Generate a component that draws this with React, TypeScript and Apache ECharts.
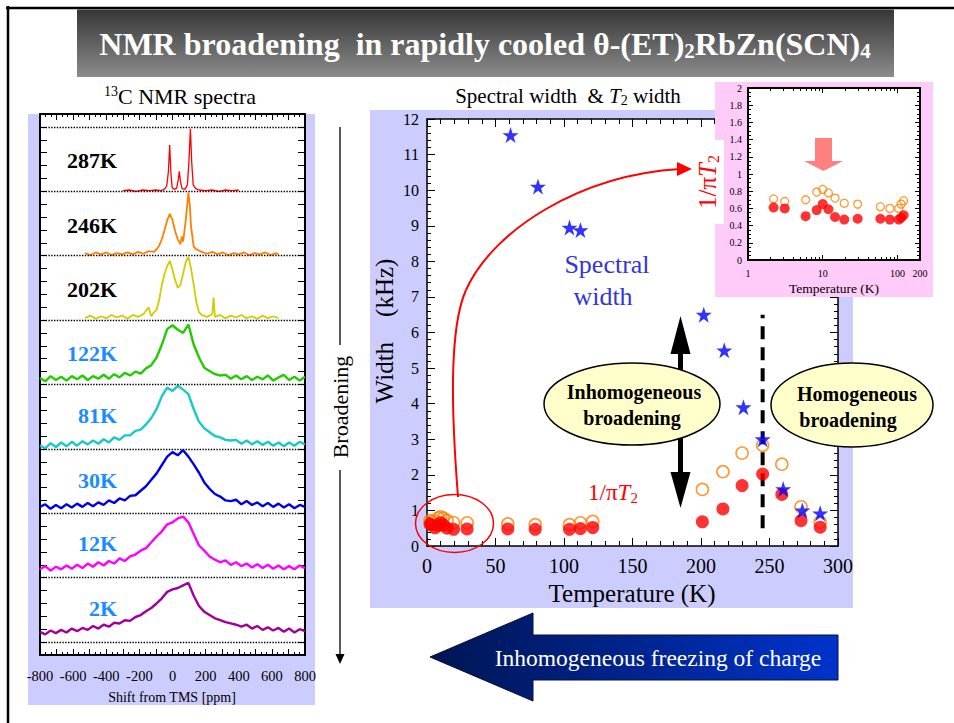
import React, { useEffect, useRef } from 'react';
import * as echarts from 'echarts';

const SERIF = '"Liberation Serif", "Times New Roman", Times, serif';

// ---------------- 13C NMR spectra (shift in ppm, intensity above its baseline) ----------------
const SPECTRUM_NAMES = ['287K', '246K', '202K', '122K', '81K', '30K', '12K', '2K'];
const SPECTRUM_COLORS = ['#ff0000', '#ff8000', '#d2cc00', '#22cc00', '#19c8c8', '#0000e6', '#ff00ff', '#a0009a'];
const SPECTRUM_LABEL_COLORS = ['#000', '#000', '#000', '#1a8cff', '#1a8cff', '#1a8cff', '#1a8cff', '#1a8cff'];
const SPECTRUM_BASELINES = [7, 6, 5, 4, 3, 2, 1, 0];
const GUIDE_LEVELS = [0, 1, 2, 3, 4, 5, 6, 7, 8];
const SHIFT_TICKS = [-800, -600, -400, -200, 0, 200, 400, 600, 800];

const SHIFT_287K = [-300, -260, -220, -180, -140, -100, -70, -50, -35, -25, -17, -10, -2, 10, 25, 35, 41, 48, 58, 75, 90, 100, 108, 116, 125, 140, 160, 200, 240, 280, 320, 360, 400];
const INT_287K = [0.01, 0.02, 0.0, 0.02, 0.01, 0.02, 0.01, 0.03, 0.08, 0.3, 0.72, 0.3, 0.06, 0.03, 0.05, 0.18, 0.31, 0.15, 0.04, 0.03, 0.1, 0.5, 0.97, 0.45, 0.1, 0.04, 0.02, 0.01, 0.02, 0.0, 0.02, 0.01, 0.02];

const SHIFT_246K = [-528, -496, -464, -432, -400, -368, -336, -304, -272, -240, -208, -176, -144, -112, -96, -80, -64, -48, -32, -16, 0, 16, 32, 48, 56, 64, 80, 96, 104, 112, 128, 144, 176, 208, 240, 272, 304, 336, 368, 400, 432, 464, 496, 528, 560, 592, 624, 640];
const INT_246K = [0.04, 0.01, 0.05, 0.02, 0.05, 0.01, 0.04, 0.02, 0.05, 0.02, 0.06, 0.03, 0.07, 0.06, 0.1, 0.16, 0.26, 0.4, 0.55, 0.65, 0.55, 0.38, 0.25, 0.18, 0.3, 0.22, 0.55, 0.98, 0.8, 0.45, 0.14, 0.1, 0.06, 0.03, 0.06, 0.02, 0.05, 0.01, 0.04, 0.02, 0.05, 0.01, 0.04, 0.02, 0.05, 0.01, 0.04, 0.02];

const SHIFT_202K = [-528, -496, -464, -432, -400, -368, -336, -304, -272, -240, -208, -176, -144, -128, -112, -96, -80, -64, -48, -32, -16, 0, 16, 32, 48, 64, 80, 96, 112, 128, 144, 160, 176, 208, 240, 248, 256, 288, 320, 352, 384, 416, 448, 480, 512, 544, 576, 608, 640];
const INT_202K = [0.03, 0.07, 0.02, 0.06, 0.03, 0.08, 0.04, 0.07, 0.02, 0.08, 0.05, 0.09, 0.2, 0.06, 0.12, 0.16, 0.32, 0.55, 0.72, 0.84, 0.92, 0.78, 0.62, 0.5, 0.55, 0.72, 0.9, 0.98, 0.8, 0.55, 0.28, 0.12, 0.08, 0.05, 0.09, 0.35, 0.05, 0.08, 0.03, 0.07, 0.04, 0.08, 0.03, 0.06, 0.02, 0.07, 0.03, 0.06, 0.03];

const SHIFT_BROAD = [-800, -768, -736, -704, -672, -640, -608, -576, -544, -512, -480, -448, -416, -384, -352, -320, -288, -256, -224, -192, -160, -128, -96, -64, -32, 0, 32, 64, 96, 128, 160, 192, 224, 256, 288, 320, 352, 384, 416, 448, 480, 512, 544, 576, 608, 640, 672, 704, 736, 768, 800];
const INT_122K = [0.1, 0.05, 0.13, 0.07, 0.12, 0.06, 0.13, 0.08, 0.14, 0.07, 0.13, 0.09, 0.15, 0.09, 0.16, 0.11, 0.18, 0.14, 0.2, 0.17, 0.25, 0.3, 0.42, 0.62, 0.86, 0.92, 0.85, 0.8, 0.93, 0.62, 0.42, 0.26, 0.21, 0.16, 0.14, 0.15, 0.09, 0.14, 0.08, 0.13, 0.07, 0.12, 0.08, 0.14, 0.06, 0.11, 0.15, 0.07, 0.12, 0.06, 0.12];
const INT_81K = [0.05, 0.01, 0.09, 0.03, 0.1, 0.04, 0.11, 0.05, 0.12, 0.07, 0.13, 0.08, 0.15, 0.1, 0.18, 0.14, 0.21, 0.21, 0.28, 0.3, 0.38, 0.48, 0.62, 0.82, 0.95, 0.9, 0.98, 0.92, 0.85, 0.62, 0.42, 0.32, 0.26, 0.2, 0.18, 0.14, 0.13, 0.14, 0.08, 0.13, 0.07, 0.12, 0.06, 0.11, 0.05, 0.1, 0.04, 0.1, 0.05, 0.11, 0.07];
const INT_30K = [0.1, 0.14, 0.07, 0.13, 0.08, 0.14, 0.09, 0.15, 0.1, 0.16, 0.11, 0.17, 0.13, 0.2, 0.16, 0.23, 0.2, 0.27, 0.28, 0.35, 0.42, 0.52, 0.62, 0.75, 0.88, 0.95, 0.9, 0.98, 0.88, 0.76, 0.63, 0.48, 0.38, 0.3, 0.26, 0.2, 0.19, 0.21, 0.14, 0.19, 0.13, 0.17, 0.11, 0.16, 0.1, 0.15, 0.09, 0.14, 0.08, 0.13, 0.1];
const INT_12K = [0.13, 0.18, 0.11, 0.17, 0.13, 0.19, 0.14, 0.2, 0.15, 0.22, 0.17, 0.24, 0.19, 0.26, 0.22, 0.3, 0.26, 0.33, 0.36, 0.42, 0.46, 0.55, 0.64, 0.72, 0.83, 0.86, 0.92, 0.95, 0.86, 0.68, 0.5, 0.42, 0.33, 0.28, 0.24, 0.27, 0.2, 0.24, 0.18, 0.22, 0.16, 0.21, 0.15, 0.2, 0.14, 0.19, 0.13, 0.18, 0.13, 0.19, 0.15];
const INT_2K = [0.16, 0.12, 0.18, 0.14, 0.19, 0.15, 0.21, 0.17, 0.22, 0.19, 0.25, 0.21, 0.27, 0.24, 0.3, 0.29, 0.34, 0.33, 0.39, 0.42, 0.48, 0.53, 0.6, 0.68, 0.78, 0.82, 0.84, 0.88, 0.92, 0.72, 0.56, 0.47, 0.42, 0.37, 0.34, 0.31, 0.29, 0.27, 0.24, 0.27, 0.21, 0.25, 0.19, 0.23, 0.18, 0.22, 0.16, 0.21, 0.15, 0.2, 0.17];

const SPECTRA_SHIFTS = [SHIFT_287K, SHIFT_246K, SHIFT_202K, SHIFT_BROAD, SHIFT_BROAD, SHIFT_BROAD, SHIFT_BROAD, SHIFT_BROAD];
const SPECTRA_INTS = [INT_287K, INT_246K, INT_202K, INT_122K, INT_81K, INT_30K, INT_12K, INT_2K];

// ---------------- Widths vs temperature ----------------
const T_STAR = [61, 81, 104, 112, 202, 217, 231, 245, 260, 274, 287];
const W_STAR = [11.55, 10.1, 8.95, 8.88, 6.5, 5.5, 3.9, 3.0, 1.6, 1.0, 0.92];

const T_LOW = [2.2, 3.1, 5.9, 8.3, 10, 11.9, 14.6, 19.4, 29.3, 59, 79, 104, 112, 121];
const FILLED_LOW = [0.61, 0.6, 0.51, 0.58, 0.65, 0.59, 0.5, 0.47, 0.48, 0.48, 0.47, 0.47, 0.49, 0.52];
const OPEN_LOW = [0.71, 0.68, 0.7, 0.79, 0.82, 0.78, 0.72, 0.66, 0.65, 0.62, 0.6, 0.6, 0.65, 0.69];

const T_HIGH = [201, 216, 230, 245, 259, 273, 287];
const FILLED_HIGH = [0.68, 1.04, 1.7, 2.02, 1.45, 0.71, 0.53];
const OPEN_HIGH = [1.59, 2.09, 2.61, 2.83, 2.3, 1.1, 0.67];

const DIVIDE_T = 245;
const DIVIDE_W = [0.5, 6.5];

const STAR_PATH = 'path://M50,3 L61.8,38.2 L98.5,38.2 L68.9,60 L80.3,95 L50,73.5 L19.7,95 L31.1,60 L1.5,38.2 L38.2,38.2 Z';

const pairs = (xs: number[], ys: number[]) => xs.map((x, i) => [x, ys[i]]);

function txt(x: number, y: number, text: string, style: any, el: any = {}) {
  return {
    type: 'text',
    x,
    y,
    z: 10,
    silent: true,
    style: { text, fontFamily: SERIF, fill: '#000', align: 'center', verticalAlign: 'middle', ...style },
    ...el,
  };
}

function axisBase(extra: any) {
  return {
    type: 'value',
    axisLine: { show: true, onZero: false, lineStyle: { color: '#000', width: 1.5 } },
    splitLine: { show: false },
    ...extra,
  };
}

function buildOption(): any {
  const spectraSeries = SPECTRUM_NAMES.map((name, k) => ({
    type: 'line',
    name,
    xAxisIndex: 0,
    yAxisIndex: 0,
    silent: true,
    symbol: 'none',
    z: 3,
    lineStyle: { color: SPECTRUM_COLORS[k], width: k === 0 ? 1.3 : k < 3 ? 1.8 : 2.4 },
    data: SPECTRA_SHIFTS[k].map((s, i) => [s, SPECTRUM_BASELINES[k] + SPECTRA_INTS[k][i]]),
    markLine:
      k === 0
        ? {
            silent: true,
            symbol: ['none', 'none'],
            label: { show: false },
            lineStyle: { color: '#000', type: 'dotted', width: 1.4 },
            data: GUIDE_LEVELS.map((v) => ({ yAxis: v })),
          }
        : undefined,
  }));

  const leftTick = { show: true, inside: true, length: 7, lineStyle: { color: '#000', width: 1 } };
  const mainTick = { show: true, inside: true, length: 8, lineStyle: { color: '#000', width: 1 } };
  const insetTick = { show: true, inside: true, length: 5, lineStyle: { color: '#000', width: 1 } };
  const minor = (n: number, len: number) => ({ show: true, splitNumber: n, length: len, lineStyle: { color: '#000', width: 1 } });

  const xAxis = [
    axisBase({
      gridIndex: 0, position: 'bottom', min: -800, max: 800, interval: 100,
      axisLine: { show: true, onZero: false, lineStyle: { color: '#000', width: 2 } },
      axisTick: { ...leftTick, length: 6 }, minorTick: minor(3, 3),
      axisLabel: {
        margin: 13, fontSize: 14.5, fontFamily: SERIF, color: '#000',
        formatter: (v: number) => (SHIFT_TICKS.indexOf(v) >= 0 ? String(v) : ''),
      },
    }),
    axisBase({
      gridIndex: 0, position: 'top', min: -800, max: 800, interval: 100,
      axisLine: { show: true, onZero: false, lineStyle: { color: '#000', width: 2 } },
      axisTick: { ...leftTick, length: 6 }, minorTick: minor(3, 3), axisLabel: { show: false },
    }),
    axisBase({
      gridIndex: 1, position: 'bottom', min: 0, max: 300, interval: 50,
      axisTick: mainTick, minorTick: minor(5, 5),
      axisLabel: { margin: 10, fontSize: 20, fontFamily: SERIF, color: '#000' },
    }),
    axisBase({
      gridIndex: 1, position: 'top', min: 0, max: 300, interval: 50,
      axisTick: mainTick, minorTick: minor(5, 5), axisLabel: { show: false },
    }),
    {
      type: 'log', logBase: 10, gridIndex: 2, position: 'bottom', min: 1, max: 200, z: 5,
      axisLine: { show: true, onZero: false, lineStyle: { color: '#000', width: 2 } },
      splitLine: { show: false },
      axisTick: insetTick, minorTick: minor(9, 3),
      axisLabel: { margin: 8, fontSize: 10, fontFamily: SERIF, color: '#000', formatter: (v: number) => String(Math.round(v)) },
    },
    {
      type: 'log', logBase: 10, gridIndex: 2, position: 'top', min: 1, max: 200, z: 5,
      axisLine: { show: true, onZero: false, lineStyle: { color: '#000', width: 2 } },
      splitLine: { show: false },
      axisTick: insetTick, minorTick: minor(9, 3), axisLabel: { show: false },
    },
  ];

  const yAxis = [
    axisBase({
      gridIndex: 0, position: 'left', min: -0.2, max: 8.2, interval: 0.2,
      axisLine: { show: true, onZero: false, lineStyle: { color: '#000', width: 2 } },
      axisTick: leftTick, axisLabel: { show: false },
    }),
    axisBase({
      gridIndex: 0, position: 'right', min: -0.2, max: 8.2, interval: 0.2,
      axisLine: { show: true, onZero: false, lineStyle: { color: '#000', width: 2 } },
      axisTick: leftTick, axisLabel: { show: false },
    }),
    axisBase({
      gridIndex: 1, position: 'left', min: 0, max: 12, interval: 1,
      axisTick: mainTick, minorTick: minor(5, 4),
      axisLabel: { margin: 8, fontSize: 16, fontFamily: SERIF, color: '#000' },
    }),
    axisBase({
      gridIndex: 1, position: 'right', min: 0, max: 12, interval: 1,
      axisTick: mainTick, minorTick: minor(5, 4), axisLabel: { show: false },
    }),
    axisBase({
      gridIndex: 2, position: 'left', min: 0, max: 2, interval: 0.2, z: 5,
      axisLine: { show: true, onZero: false, lineStyle: { color: '#000', width: 2 } },
      axisTick: insetTick, minorTick: minor(4, 3),
      axisLabel: { margin: 6, fontSize: 10, fontFamily: SERIF, color: '#000' },
    }),
    axisBase({
      gridIndex: 2, position: 'right', min: 0, max: 2, interval: 0.2, z: 5,
      axisLine: { show: true, onZero: false, lineStyle: { color: '#000', width: 2 } },
      axisTick: insetTick, minorTick: minor(4, 3), axisLabel: { show: false },
    }),
  ];

  const openStyle = { color: 'rgba(255,255,255,0)', borderColor: '#ff8000', borderWidth: 1.6 };
  const series: any[] = [
    ...spectraSeries,
    {
      type: 'scatter', xAxisIndex: 2, yAxisIndex: 2, silent: true, z: 3,
      symbol: 'circle', symbolSize: 12, itemStyle: openStyle,
      data: [...pairs(T_LOW, OPEN_LOW), ...pairs(T_HIGH, OPEN_HIGH)],
    },
    {
      type: 'scatter', xAxisIndex: 2, yAxisIndex: 2, silent: true, z: 4,
      symbol: 'circle', symbolSize: 13, itemStyle: { color: '#ff0000' },
      data: [...pairs(T_LOW, FILLED_LOW), ...pairs(T_HIGH, FILLED_HIGH)],
    },
    {
      type: 'line', xAxisIndex: 2, yAxisIndex: 2, silent: true, z: 3, symbol: 'none',
      lineStyle: { color: '#000', width: 4, type: [13, 8] },
      data: [[DIVIDE_T, DIVIDE_W[0]], [DIVIDE_T, DIVIDE_W[1]]],
    },
    {
      type: 'scatter', xAxisIndex: 2, yAxisIndex: 2, silent: true, z: 5,
      symbol: STAR_PATH, symbolSize: 16, itemStyle: { color: '#0000ff' },
      data: pairs(T_STAR, W_STAR),
    },
    {
      type: 'scatter', xAxisIndex: 4, yAxisIndex: 4, silent: true, z: 6,
      symbol: 'circle', symbolSize: 8, itemStyle: { ...openStyle, borderWidth: 1.3 },
      data: pairs(T_LOW, OPEN_LOW),
    },
    {
      type: 'scatter', xAxisIndex: 4, yAxisIndex: 4, silent: true, z: 7,
      symbol: 'circle', symbolSize: 10, itemStyle: { color: '#ff0000' },
      data: pairs(T_LOW, FILLED_LOW),
    },
  ];

  const red = '#ff0000';
  const graphic: any[] = [
    // slide frame
    { type: 'line', z: -5, silent: true, shape: { x1: 6, y1: 8, x2: 954, y2: 8 }, style: { stroke: '#000', lineWidth: 2.5 } },
    { type: 'line', z: -5, silent: true, shape: { x1: 8, y1: 6, x2: 8, y2: 723 }, style: { stroke: '#000', lineWidth: 2.5 } },
    // title bar
    {
      type: 'rect', z: -5, silent: true, shape: { x: 77, y: 9.5, width: 817, height: 67.5 },
      style: {
        fill: new echarts.graphic.LinearGradient(0, 0, 0, 1, [
          { offset: 0, color: '#363636' },
          { offset: 1, color: '#8c8c8c' },
        ]),
      },
    },
    txt(485, 44, '{m|NMR broadening  in rapidly cooled θ-(ET)}{s|2}{m|RbZn(SCN)}{s|4}', {
      fill: '#fff', fontSize: 32, fontWeight: 'bold',
      rich: {
        m: { fontSize: 32, fontWeight: 'bold', fontFamily: SERIF, fill: '#fff' },
        s: { fontSize: 21, fontWeight: 'bold', fontFamily: SERIF, fill: '#fff', padding: [13, 0, 0, 0] },
      },
    }),
    // panel backgrounds
    { type: 'rect', z: -5, silent: true, shape: { x: 28, y: 114, width: 287, height: 591 }, style: { fill: '#ccccff' } },
    { type: 'rect', z: -5, silent: true, shape: { x: 370, y: 110, width: 483, height: 498 }, style: { fill: '#ccccff' } },
    { type: 'rect', z: 3, silent: true, shape: { x: 715, y: 82, width: 218, height: 215 }, style: { fill: '#ffccfa' } },
    { type: 'rect', z: 3, silent: true, shape: { x: 712, y: 140, width: 12, height: 84 }, style: { fill: '#ffffff' } },

    // left panel texts
    txt(180, 96, '{sup|13}{m|C NMR spectra}', {
      fontSize: 22,
      rich: {
        m: { fontSize: 22, fontFamily: SERIF, fill: '#000' },
        sup: { fontSize: 14, fontFamily: SERIF, fill: '#000', padding: [0, 0, 10, 0] },
      },
    }),
    ...SPECTRUM_NAMES.map((n, k) =>
      txt(117, [160, 225, 289, 353, 415, 480, 543, 608][k], n, {
        fontSize: 22, fontWeight: 'bold', fill: SPECTRUM_LABEL_COLORS[k], align: 'right',
      })
    ),
    txt(172, 697, 'Shift from TMS [ppm]', { fontSize: 14 }),

    // broadening arrow
    { type: 'line', z: 10, silent: true, shape: { x1: 340, y1: 127, x2: 340, y2: 345 }, style: { stroke: '#000', lineWidth: 1.3 } },
    { type: 'line', z: 10, silent: true, shape: { x1: 340, y1: 470, x2: 340, y2: 656 }, style: { stroke: '#000', lineWidth: 1.3 } },
    { type: 'polygon', z: 10, silent: true, shape: { points: [[335.5, 654], [344.5, 654], [340, 664]] }, style: { fill: '#000' } },
    txt(340, 407, 'Broadening', { fontSize: 22 }, { rotation: Math.PI / 2 }),

    // main panel texts
    txt(568, 96, '{m|Spectral width  & }{i|T}{s|2}{m| width}', {
      fontSize: 21,
      rich: {
        m: { fontSize: 21, fontFamily: SERIF, fill: '#000' },
        i: { fontSize: 21, fontFamily: SERIF, fill: '#000', fontStyle: 'italic' },
        s: { fontSize: 14, fontFamily: SERIF, fill: '#000', padding: [9, 0, 0, 0] },
      },
    }),
    txt(384, 331, 'Width    (kHz)', { fontSize: 25 }, { rotation: Math.PI / 2 }),
    txt(632, 593, 'Temperature (K)', { fontSize: 25 }),
    txt(607, 264, 'Spectral', { fontSize: 26, fill: '#3434d8' }),
    txt(603, 296, 'width', { fontSize: 26, fill: '#3434d8' }),
    txt(613, 492, '{m|1/π}{i|T}{s|2}', {
      fontSize: 23,
      rich: {
        m: { fontSize: 23, fontFamily: SERIF, fill: red },
        i: { fontSize: 23, fontFamily: SERIF, fill: red, fontStyle: 'italic' },
        s: { fontSize: 15, fontFamily: SERIF, fill: red, padding: [11, 0, 0, 0] },
      },
    }),
    txt(707, 182, '{m|1/π}{i|T}{s|2}', {
      fontSize: 25,
      rich: {
        m: { fontSize: 25, fontFamily: SERIF, fill: red },
        i: { fontSize: 25, fontFamily: SERIF, fill: red, fontStyle: 'italic' },
        s: { fontSize: 16, fontFamily: SERIF, fill: red, padding: [12, 0, 0, 0] },
      },
    }, { rotation: Math.PI / 2, z: 6 }),

    // red loop and curved arrow
    { type: 'ellipse', z: 10, silent: true, shape: { cx: 454.5, cy: 523.5, rx: 39, ry: 29 }, style: { fill: 'none', stroke: red, lineWidth: 1.5 } },
    {
      type: 'bezierCurve', z: 10, silent: true,
      shape: { x1: 458, y1: 497, cpx1: 452, cpy1: 420, cpx2: 448, cpy2: 330, x2: 466, y2: 290 },
      style: { stroke: red, lineWidth: 2, fill: 'none' },
    },
    {
      type: 'bezierCurve', z: 10, silent: true,
      shape: { x1: 466, y1: 290, cpx1: 493, cpy1: 230, cpx2: 580, cpy2: 175, x2: 680, y2: 169 },
      style: { stroke: red, lineWidth: 2, fill: 'none' },
    },
    { type: 'polygon', z: 10, silent: true, shape: { points: [[677, 162], [692, 169], [677, 176]] }, style: { fill: red } },

    // black double arrow
    { type: 'rect', z: 10, silent: true, shape: { x: 678, y: 350, width: 5, height: 125 }, style: { fill: '#000' } },
    { type: 'polygon', z: 10, silent: true, shape: { points: [[670.5, 354], [690.5, 354], [680.5, 316]] }, style: { fill: '#000' } },
    { type: 'polygon', z: 10, silent: true, shape: { points: [[670.5, 472], [690.5, 472], [680.5, 508]] }, style: { fill: '#000' } },

    // ellipses
    { type: 'ellipse', z: 11, silent: true, shape: { cx: 632, cy: 404, rx: 88, ry: 41 }, style: { fill: '#ffffcc', stroke: '#000', lineWidth: 1.5 } },
    txt(634, 392, 'Inhomogeneous', { fontSize: 20, fontWeight: 'bold' }, { z: 12 }),
    txt(632, 418, 'broadening', { fontSize: 20, fontWeight: 'bold' }, { z: 12 }),
    { type: 'ellipse', z: 11, silent: true, shape: { cx: 852, cy: 405, rx: 81, ry: 42 }, style: { fill: '#ffffcc', stroke: '#000', lineWidth: 1.5 } },
    txt(857, 394, 'Homogeneous', { fontSize: 20, fontWeight: 'bold' }, { z: 12 }),
    txt(848, 420, 'broadening', { fontSize: 20, fontWeight: 'bold' }, { z: 12 }),

    // inset decorations
    {
      type: 'polygon', z: 8, silent: true,
      shape: { points: [[815, 138], [832, 138], [832, 161], [843, 161], [823.5, 171], [804, 161], [815, 161]] },
      style: { fill: '#ff8080' },
    },
    txt(834, 288, 'Temperature (K)', { fontSize: 13.5 }, { z: 8 }),

    // bottom arrow
    {
      type: 'polygon', z: 10, silent: true,
      shape: { points: [[430, 657], [533, 613], [533, 635], [838, 635], [838, 680], [533, 680], [533, 701]] },
      style: {
        fill: new echarts.graphic.LinearGradient(0, 0, 1, 0, [
          { offset: 0, color: '#001552' },
          { offset: 1, color: '#0033cc' },
        ]),
        stroke: '#0a1030',
        lineWidth: 1,
      },
    },
    txt(658, 658, 'Inhomogeneous freezing of charge', { fontSize: 23.5, fill: '#fff' }, { z: 11 }),
  ];

  return {
    animation: false,
    backgroundColor: '#ffffff',
    textStyle: { fontFamily: SERIF },
    grid: [
      { left: 40, top: 114, width: 265, height: 541, show: true, backgroundColor: '#fff', borderWidth: 0 },
      { left: 427, top: 119, width: 411, height: 427, show: true, backgroundColor: '#fff', borderWidth: 0 },
      { left: 748, top: 88, width: 172, height: 172, show: true, backgroundColor: '#fff', borderWidth: 0, z: 4 },
    ],
    xAxis,
    yAxis,
    series,
    graphic,
  };
}

export default function App() {
  const ref = useRef<HTMLDivElement>(null);
  useEffect(() => {
    if (!ref.current) return;
    const chart = echarts.init(ref.current, null, { renderer: 'svg' });
    chart.setOption(buildOption());
    return () => chart.dispose();
  }, []);
  return (
    <div
      ref={ref}
      style={{ position: 'absolute', left: 0, top: 0, width: 954, height: 723, background: '#fff' }}
    />
  );
}
